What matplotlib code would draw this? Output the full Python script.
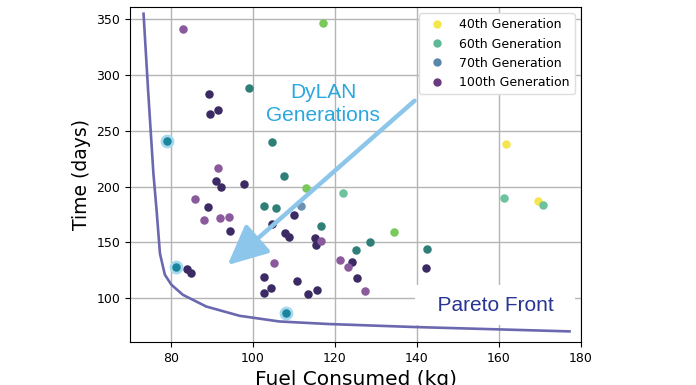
import matplotlib
matplotlib.use('Agg')
import matplotlib.pyplot as plt
from matplotlib.lines import Line2D

# Points grouped by how they appear (overlapping generations give darker tones)
gen40_x = [161.8, 169.4]
gen40_y = [238.4, 187.5]

gen40_60_x = [117.0, 113.0, 134.4]
gen40_60_y = [346.4, 198.8, 159.2]

gen60_x = [121.9, 161.3, 170.8]
gen60_y = [194.3, 190.2, 183.9]

gen70_x = [111.7]
gen70_y = [183.0]

gen60_70_x = [99.0, 104.6, 107.5, 102.8, 105.7, 116.7, 125.0, 128.6, 142.4]
gen60_70_y = [288.4, 239.8, 209.5, 182.7, 181.2, 164.8, 142.9, 150.0, 143.7]

gen_all_x = [89.3, 91.4, 89.5, 90.9, 92.2, 97.7, 88.9, 94.5, 104.6, 109.9,
             107.8, 108.8, 115.0, 115.3, 83.8, 84.8, 102.8, 104.3, 102.8,
             110.7, 113.4, 115.6, 124.2, 125.3, 142.2]
gen_all_y = [282.7, 269.0, 265.2, 205.0, 199.4, 202.0, 181.8, 159.8, 166.2,
             175.0, 158.6, 154.7, 153.8, 147.3, 126.4, 122.6, 119.0, 109.5,
             104.7, 115.7, 104.1, 107.4, 132.7, 117.9, 127.0]

gen100_x = [82.9, 91.4, 85.9, 88.1, 91.9, 94.1, 97.7, 116.7, 121.3, 123.1,
            127.2, 105.2]
gen100_y = [341.0, 216.5, 188.7, 170.5, 171.7, 172.6, 148.5, 151.4, 134.5,
            128.0, 106.8, 131.8]

pareto_pts_x = [79.1, 81.2, 108.1]
pareto_pts_y = [241.0, 127.7, 86.9]

front_x = [73.3, 74.4, 75.7, 76.5, 77.3, 78.5, 80.1, 82.9, 88.6, 96.7,
           106.4, 118.5, 139.6, 160.0, 177.2]
front_y = [355, 287, 212, 178, 140, 121, 112, 103, 92.5, 84.2,
           79.1, 76.8, 74.1, 72.0, 70.2]

legend_labels = ['40th Generation', '60th Generation', '70th Generation',
                 '100th Generation']
legend_colors = ['#f3e84a', '#5db896', '#5a86a8', '#6a3a80']

fig = plt.figure(figsize=(6.96, 3.85), dpi=100)
ax = fig.add_axes([0.1868, 0.1117, 0.648, 0.870])
ax.set_axisbelow(True)
ax.grid(True, color='#b5b5b5', linewidth=1.0)

ax.plot(front_x, front_y, color='#6b68b0', linewidth=1.9, zorder=7)

s = 26
ax.scatter(gen40_x, gen40_y, s=s, color='#f4e650', zorder=3)
ax.scatter(gen40_60_x, gen40_60_y, s=s, color='#78c85a', zorder=3)
ax.scatter(gen60_x, gen60_y, s=s, color='#6cc39e', zorder=3)
ax.scatter(gen70_x, gen70_y, s=s, color='#6a92b0', zorder=3)
ax.scatter(gen60_70_x, gen60_70_y, s=s, color='#2f7f78', zorder=3)
ax.scatter(gen_all_x, gen_all_y, s=s, color='#3b2a63', zorder=3)
ax.scatter(gen100_x, gen100_y, s=s, color='#8a5a9c', zorder=3)
ax.scatter(pareto_pts_x, pareto_pts_y, s=80, color='#a6d8ee', zorder=3)
ax.scatter(pareto_pts_x, pareto_pts_y, s=26, color='#1a859c', zorder=4)

ax.annotate('', xy=(93.8, 129.7), xytext=(139.4, 277),
            arrowprops=dict(arrowstyle='-|>,head_length=0.7,head_width=0.33',
                            color='#8cc6ea', lw=3.2, mutation_scale=35,
                            shrinkA=0, shrinkB=0), zorder=5)
ax.text(117.1, 274.4, 'DyLAN\nGenerations', color='#2aa7df',
        fontsize=15, family='Liberation Sans', ha='center', va='center',
        linespacing=1.25, zorder=6)
ax.text(159.1, 93.5, '  Pareto Front  ', color='#283593', fontsize=15,
        family='Liberation Sans', ha='center', va='center', zorder=6,
        bbox=dict(boxstyle='square,pad=0.5', facecolor='white',
                  edgecolor='none'))

handles = [Line2D([], [], marker='o', linestyle='none', markersize=5,
                  markerfacecolor=c, markeredgecolor=c) for c in legend_colors]
leg = ax.legend(handles, legend_labels, loc='upper right', fontsize=9,
                framealpha=1, edgecolor='#dddddd', handletextpad=0.8,
                borderaxespad=0.5)
leg.set_zorder(8)

ax.set_xlim(70, 180)
ax.set_ylim(60.7, 361)
ax.set_xticks([80, 100, 120, 140, 160, 180])
ax.set_yticks([100, 150, 200, 250, 300, 350])
ax.tick_params(labelsize=9)
ax.set_xlabel('Fuel Consumed (kg)', fontsize=14.5)
ax.set_ylabel('Time (days)', fontsize=13.5)

fig.savefig('out.png', dpi=100)
